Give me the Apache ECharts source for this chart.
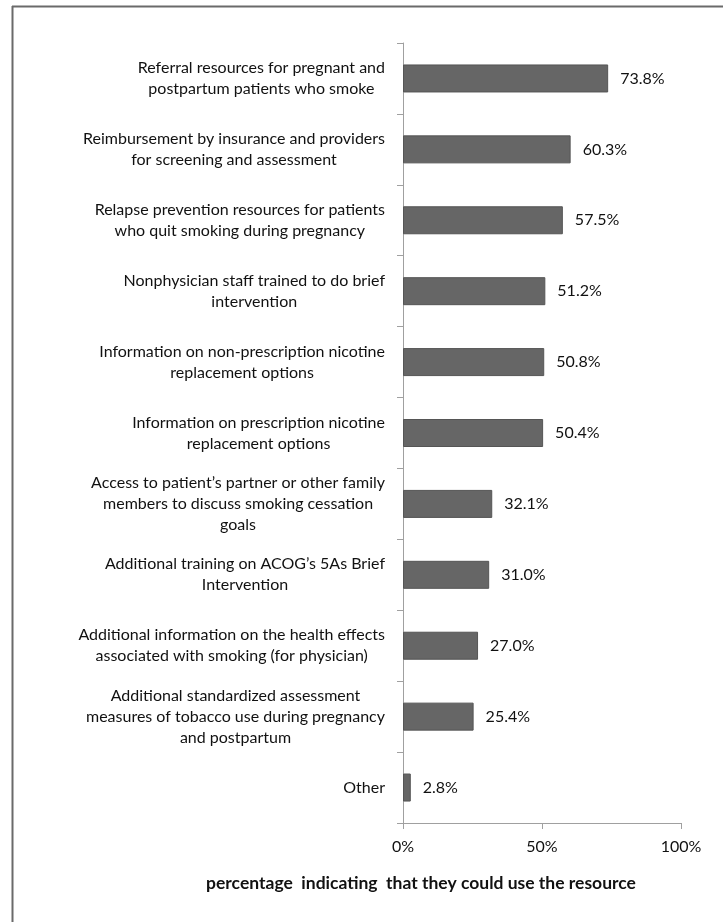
<!DOCTYPE html>
<html>
<head>
<meta charset="utf-8">
<script src="https://cdn.jsdelivr.net/npm/echarts@6/dist/echarts.min.js"></script>
<style>
html,body{margin:0;padding:0;background:#fff;}
#chart{width:723px;height:922px;}
</style>
</head>
<body>
<div id="chart"></div>
<script>
const categories = [
  "Referral resources for pregnant and\npostpartum patients who smoke",
  "Reimbursement by insurance and providers\nfor screening and assessment",
  "Relapse prevention resources for patients\nwho quit smoking during pregnancy",
  "Nonphysician staff trained to do brief\nintervention",
  "Information on non-prescription nicotine\nreplacement options",
  "Information on prescription nicotine\nreplacement options",
  "Access to patient\u2019s partner or other family\nmembers to discuss smoking cessation\ngoals",
  "Additional training on ACOG\u2019s 5As Brief\nIntervention",
  "Additional information on the health effects\nassociated with smoking (for physician)",
  "Additional standardized assessment\nmeasures of tobacco use during pregnancy\nand postpartum",
  "Other"
];
const values = [73.8, 60.3, 57.5, 51.2, 50.8, 50.4, 32.1, 31.0, 27.0, 25.4, 2.8];
const xTicks = [0, 50, 100];
const xTitle = "percentage  indicating  that they could use the resource";

const FONT = "Lato";
const chart = echarts.init(document.getElementById('chart'), null, {renderer: 'canvas'});
chart.setOption({
  animation: false,
  backgroundColor: '#ffffff',
  grid: {left: 403, top: 43, right: 42, bottom: 99, containLabel: false},
  xAxis: {
    type: 'value', min: 0, max: 100, interval: 50,
    axisLine: {show: true, lineStyle: {color: '#a0a0a0', width: 1}},
    axisTick: {show: true, length: 6, lineStyle: {color: '#a0a0a0'}},
    splitLine: {show: false},
    axisLabel: {
      margin: 16, color: '#111', fontFamily: FONT, fontSize: 16,
      formatter: v => xTicks.includes(v) ? v + '%' : ''
    }
  },
  yAxis: {
    type: 'category', data: categories, inverse: true,
    axisLine: {show: true, lineStyle: {color: '#a0a0a0', width: 1}},
    axisTick: {show: true, length: 6, lineStyle: {color: '#a0a0a0'}},
    axisLabel: {
      margin: 18, color: '#111', fontFamily: FONT, fontSize: 16,
      lineHeight: 21, align: 'right',
      formatter: v => v.split('\n').map(s => '{c|' + s + '}').join('\n'),
      rich: {c: {align: 'center', color: '#111', fontFamily: FONT, fontSize: 16, lineHeight: 21}}
    }
  },
  series: [{
    type: 'bar', data: values, barWidth: 28,
    itemStyle: {color: '#666666', borderColor: '#555555', borderWidth: 1},
    label: {
      show: true, position: 'right', distance: 12,
      color: '#111', fontFamily: FONT, fontSize: 16,
      formatter: p => p.value.toFixed(1) + '%'
    }
  }],
  graphic: [
    {type: 'line', shape: {x1: 12, y1: 6.5, x2: 723, y2: 6.5}, style: {stroke: '#6a6a6a', lineWidth: 2}},
    {type: 'line', shape: {x1: 12.5, y1: 6, x2: 12.5, y2: 922}, style: {stroke: '#6a6a6a', lineWidth: 2}},
    {type: 'text', x: 421, y: 883, style: {text: xTitle, fontFamily: FONT, fontSize: 17.5, fontWeight: 'bold', fill: '#111', textAlign: 'center', textVerticalAlign: 'middle'}}
  ]
});
</script>
</body>
</html>
